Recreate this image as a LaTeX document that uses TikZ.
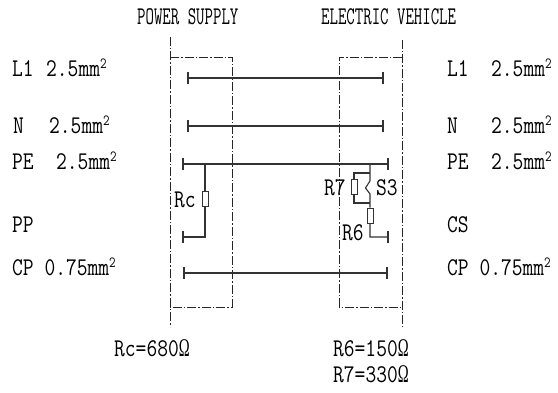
\documentclass[tikz,border=0pt]{standalone}
\usepackage{fontspec}
\usepackage{graphicx}
\newfontfamily\ohmfont[FakeStretch=0.7]{Liberation Serif}
\newcommand{\sqtwo}{\raisebox{8.5pt}{\fontsize{15.5}{15.5}\selectfont 2}}
\newcommand{\ohmsym}{{\ohmfont Ω}}
\newcommand{\nx}[1]{\scalebox{0.82}[1]{#1}}
\newcommand{\hx}[1]{\scalebox{0.642}[1]{#1}}
\begin{document}
\begin{tikzpicture}[x=1pt,y=-1pt,
  lbl/.style={font=\ttfamily\fontsize{25.5}{25.5}\selectfont, anchor=base west, inner sep=0pt, text=black},
  wire/.style={line width=1.1pt, draw=black!80},
  frame/.style={line width=0.9pt, draw=black!85, dash pattern=on 9pt off 2pt on 1.5pt off 2pt},
  res/.style={draw=black!80, line width=0.9pt, fill=white, minimum width=6pt, minimum height=15pt, inner sep=0pt, rectangle}]
\useasboundingbox (0,0) rectangle (558,393);
% frames
\coordinate (LVt) at (170,37); \coordinate (LVb) at (170,327);
\coordinate (RVt) at (402,40); \coordinate (RVb) at (402,327);
\coordinate (LB1) at (170,57); \coordinate (LB2) at (232,57);
\coordinate (LB3) at (232,307); \coordinate (LB4) at (170,307);
\coordinate (RB1) at (402,57); \coordinate (RB2) at (339,57);
\coordinate (RB3) at (339,307); \coordinate (RB4) at (402,307);
\draw[frame] (LVt) -- (LVb);
\draw[frame] (RVt) -- (RVb);
\draw[frame] (LB1) -- (LB2) -- (LB3) -- (LB4);
\draw[frame] (RB1) -- (RB2) -- (RB3) -- (RB4);
% main lines
\coordinate (L1a) at (188,78); \coordinate (L1b) at (383,78);
\coordinate (Na) at (188,126); \coordinate (Nb) at (383,126);
\coordinate (PEa) at (183,164); \coordinate (PEb) at (388,164);
\coordinate (CPa) at (184,273); \coordinate (CPb) at (387,273);
\foreach \a/\b in {L1a/L1b, Na/Nb, PEa/PEb, CPa/CPb}{
  \draw[wire] (\a) -- (\b);
  \draw[wire] ([yshift=-6pt]\a) -- ([yshift=6pt]\a);
  \draw[wire] ([yshift=-6pt]\b) -- ([yshift=6pt]\b);
}
% PP branch
\coordinate (PPt) at (205,164); \coordinate (PPc) at (205,237); \coordinate (PPa) at (183,237);
\node[res] (Rc) at (205,198.5) {};
\draw[wire] (PPt) -- (Rc) -- (PPc) -- (PPa);
\draw[wire] ([yshift=-6pt]PPa) -- ([yshift=6pt]PPa);
% CS branch
\coordinate (S3top) at (370,164);
\coordinate (Pj1) at (370,173); \coordinate (Pl1) at (354,173);
\coordinate (Pl2) at (354,203); \coordinate (Pj2) at (370,203);
\coordinate (Sa) at (370,181); \coordinate (Sb) at (365.5,188); \coordinate (Sc) at (370,194);
\node[res] (R7) at (354,187) {};
\node[res] (R6) at (370,215.5) {};
\coordinate (CSc) at (370,237); \coordinate (CSb) at (388,237);
\draw[wire] (Pj1) -- (Pl1) -- (R7) -- (Pl2) -- (Pj2);
\draw[wire] (S3top) -- (Sa) -- (Sb) -- (Sc) -- (Pj2) -- (R6) -- (CSc) -- (CSb);
\draw[wire] ([yshift=-6pt]CSb) -- ([yshift=6pt]CSb);
% headers
\node[lbl] (hps) at (137,25) {\hx{POWER SUPPLY}};
\node[lbl] (hev) at (321,25) {\hx{ELECTRIC VEHICLE}};
% left labels
\node[lbl] (tL1) at (12,77) {\nx{L1}};
\node[lbl] (vL1) at (46,77) {\nx{2.5mm\sqtwo}};
\node[lbl] (tN) at (13,134) {\nx{N}};
\node[lbl] (vN) at (49,134) {\nx{2.5mm\sqtwo}};
\node[lbl] (tPE) at (12,170) {\nx{PE}};
\node[lbl] (vPE) at (56,170) {\nx{2.5mm\sqtwo}};
\node[lbl] (tPP) at (12,233) {\nx{PP}};
\node[lbl] (tCP) at (12,276) {\nx{CP 0.75mm\sqtwo}};
% right labels
\node[lbl] (rL1) at (447,77) {\nx{L1}};
\node[lbl] (rvL1) at (491,77) {\nx{2.5mm\sqtwo}};
\node[lbl] (rN) at (447,134) {\nx{N}};
\node[lbl] (rvN) at (491,134) {\nx{2.5mm\sqtwo}};
\node[lbl] (rPE) at (447,170) {\nx{PE}};
\node[lbl] (rvPE) at (491,170) {\nx{2.5mm\sqtwo}};
\node[lbl] (rCS) at (447,233) {\nx{CS}};
\node[lbl] (rCP) at (447,276) {\nx{CP 0.75mm\sqtwo}};
% circuit labels
\node[lbl] (lRc) at (174,208) {\nx{Rc}};
\node[lbl] (lR7) at (324,196) {\nx{R7}};
\node[lbl] (lS3) at (376,196) {\nx{S3}};
\node[lbl] (lR6) at (342,241) {\nx{R6}};
% values
\node[lbl] (bRc) at (114,357) {\nx{Rc=680\ohmsym}};
\node[lbl] (bR6) at (333,357) {\nx{R6=150\ohmsym}};
\node[lbl] (bR7) at (333,383) {\nx{R7=330\ohmsym}};
\end{tikzpicture}
\end{document}
